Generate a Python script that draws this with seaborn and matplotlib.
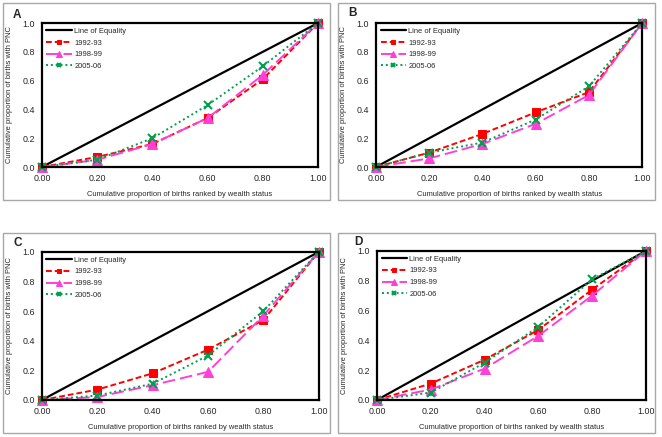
import matplotlib
matplotlib.use("Agg")
import matplotlib.pyplot as plt
from matplotlib.patches import Rectangle
import seaborn as sns
import pandas as pd

# wealth quintile cumulative shares
x_vals = [0.0, 0.2, 0.4, 0.6, 0.8, 1.0]
equality = [0.0, 0.2, 0.4, 0.6, 0.8, 1.0]

# panel A
a_9293 = [0.0, 0.07, 0.16, 0.34, 0.61, 1.0]
a_9899 = [0.0, 0.05, 0.16, 0.34, 0.64, 1.0]
a_0506 = [0.0, 0.05, 0.20, 0.43, 0.70, 1.0]
# panel B
b_9293 = [0.0, 0.10, 0.23, 0.38, 0.52, 1.0]
b_9899 = [0.0, 0.06, 0.16, 0.30, 0.50, 1.0]
b_0506 = [0.0, 0.10, 0.17, 0.33, 0.56, 1.0]
# panel C
c_9293 = [0.0, 0.07, 0.18, 0.34, 0.54, 1.0]
c_9899 = [0.0, 0.02, 0.10, 0.19, 0.57, 1.0]
c_0506 = [0.0, 0.03, 0.11, 0.30, 0.60, 1.0]
# panel D
d_9293 = [0.0, 0.11, 0.27, 0.47, 0.74, 1.0]
d_9899 = [0.0, 0.07, 0.21, 0.43, 0.70, 1.0]
d_0506 = [0.0, 0.05, 0.25, 0.49, 0.81, 1.0]

panels = {
    "A": (a_9293, a_9899, a_0506),
    "B": (b_9293, b_9899, b_0506),
    "C": (c_9293, c_9899, c_0506),
    "D": (d_9293, d_9899, d_0506),
}
series_names = ["1992-93", "1998-99", "2005-06"]

sns.set_style("white")
plt.rcParams["font.family"] = ["Liberation Sans", "DejaVu Sans"]

fig = plt.figure(figsize=(6.62, 4.37), dpi=100)

# axes rects [left, bottom, width, height] and outer boxes
ax_rects = {
    "A": [0.0634, 0.6178, 0.417, 0.3295],
    "B": [0.568, 0.6178, 0.402, 0.3295],
    "C": [0.0634, 0.0847, 0.418, 0.3387],
    "D": [0.5695, 0.0847, 0.406, 0.341],
}
box_rects = {
    "A": [0.0045, 0.5423, 0.494, 0.451],
    "B": [0.5106, 0.5423, 0.479, 0.451],
    "C": [0.0045, 0.0092, 0.494, 0.4577],
    "D": [0.5106, 0.0092, 0.479, 0.4577],
}
letter_pos = {"A": (13, 15), "B": (348, 13), "C": (13, 243), "D": (354, 242)}

styles = [
    dict(color="#ff0000", linestyle=(0, (3, 1.5)), marker="s", markersize=6, lw=1.4),
    dict(color="#ff40d8", linestyle=(0, (6.5, 2.5)), marker="^", markersize=6.5, lw=1.4),
    dict(color="#00a050", linestyle=(0, (1, 1.5)), marker="x", markersize=6,
         markeredgewidth=1.5, lw=1.4),
]

for key, series in panels.items():
    fig.patches.append(Rectangle(box_rects[key][:2], box_rects[key][2], box_rects[key][3],
                                 transform=fig.transFigure, fill=False,
                                 edgecolor="#a8a8a8", lw=1.0))
    lx, ly = letter_pos[key]
    fig.text(lx / 662, 1 - ly / 437, key, fontsize=8.5, fontweight="bold", va="center", ha="left")

    ax = fig.add_axes(ax_rects[key])
    df = pd.DataFrame({"x": x_vals, "y": equality})
    sns.lineplot(data=df, x="x", y="y", ax=ax, color="black", lw=1.6,
                 label="Line of Equality", clip_on=False)
    for name, vals, st in zip(series_names, series, styles):
        df = pd.DataFrame({"x": x_vals, "y": vals})
        sns.lineplot(data=df, x="x", y="y", ax=ax, label=name, clip_on=False,
                     markeredgecolor=st["color"], **st)

    ax.set_xlim(0, 1)
    ax.set_ylim(0, 1)
    ax.set_xticks(x_vals)
    ax.set_xticklabels([f"{v:.2f}" for v in x_vals], fontsize=6.4)
    ax.set_yticks([0, 0.2, 0.4, 0.6, 0.8, 1.0])
    ax.set_yticklabels(["0.0", "0.2", "0.4", "0.6", "0.8", "1.0"], fontsize=6.4)
    ax.tick_params(length=0, pad=5)
    for sp in ax.spines.values():
        sp.set_color("black")
        sp.set_linewidth(1.6)
    ax.set_xlabel("Cumulative proportion of births ranked by wealth status", fontsize=5.4, labelpad=6)
    ax.set_ylabel("Cumulative proportion of births with PNC", fontsize=5.4, labelpad=7)
    ax.legend(loc="upper left", frameon=False, fontsize=5.4, handlelength=3.4,
              labelspacing=0.6, borderaxespad=0.2, handletextpad=0.3, markerscale=0.6)

fig.savefig("out.png", dpi=100)
